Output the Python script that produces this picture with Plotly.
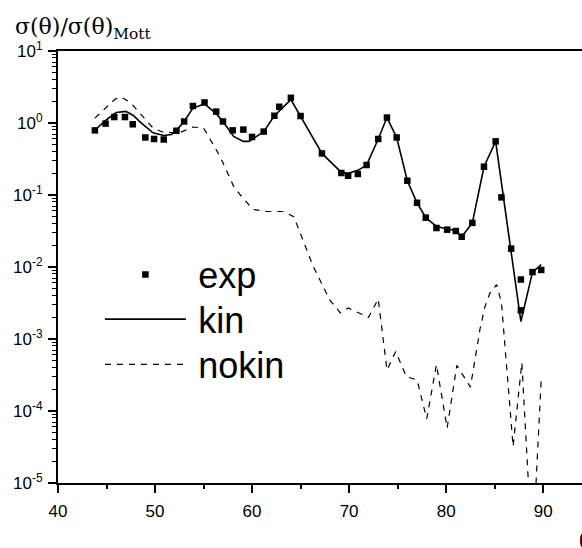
import plotly.graph_objects as go

# ---------------- data ----------------
exp_x = [43.8, 44.9, 45.8, 46.9, 47.7, 49.0, 49.9, 50.9, 52.2, 53.0, 53.9, 55.1,
         56.3, 57.0, 58.0, 59.1, 60.0, 61.2, 62.3, 62.8, 64.0, 65.0, 67.2, 69.2,
         69.9, 70.9, 71.8, 73.0, 73.9, 74.9, 76.0, 77.0, 77.9, 79.0, 80.1, 81.0,
         81.6, 82.7, 83.9, 85.1, 85.7, 86.7, 87.7, 87.7, 88.9, 89.8]
exp_y = [0.79, 0.98, 1.21, 1.21, 0.96, 0.63, 0.60, 0.59, 0.78, 1.05, 1.72, 1.93,
         1.44, 1.05, 0.79, 0.81, 0.64, 0.76, 1.26, 1.68, 2.24, 1.25, 0.378, 0.202,
         0.185, 0.196, 0.261, 0.60, 1.19, 0.63, 0.158, 0.078, 0.0484, 0.0348, 0.033, 0.0316,
         0.0263, 0.041, 0.247, 0.556, 0.0927, 0.018, 0.0067, 0.0025, 0.0085, 0.0091]

kin_x = [43.8, 45.0, 46.0, 47.0, 47.8, 48.5, 49.8, 50.9, 51.7, 52.2, 53.0, 53.9,
         55.1, 56.3, 57.0, 58.1, 59.1, 59.7, 61.2, 62.3, 64.0, 65.0, 67.2, 69.2,
         69.9, 70.9, 71.8, 73.0, 73.9, 74.9, 76.0, 77.0, 77.9, 79.0, 80.1, 81.0,
         81.6, 82.7, 83.9, 85.1, 87.7, 88.9, 89.8]
kin_y = [0.80, 1.11, 1.40, 1.45, 1.26, 1.02, 0.73, 0.67, 0.69, 0.79, 1.05, 1.61,
         1.84, 1.35, 1.05, 0.65, 0.556, 0.556, 0.76, 1.26, 2.11, 1.25, 0.378, 0.206,
         0.20, 0.22, 0.26, 0.60, 1.19, 0.63, 0.158, 0.078, 0.0484, 0.0366, 0.034, 0.032,
         0.0263, 0.041, 0.247, 0.556, 0.00175, 0.0085, 0.0108]

nokin_x = [43.8, 45.9, 46.5, 47.5, 49.8, 51.0, 52.6, 53.9, 55.0, 56.7, 58.1, 58.8,
           60.1, 61.5, 63.2, 64.3, 66.3, 68.0, 69.1, 69.9, 72.0, 73.0, 73.9, 74.8,
           75.9, 77.0, 78.0, 79.0, 80.1, 81.1, 82.5, 83.5, 84.0, 84.5, 85.2, 85.7,
           86.9, 87.8, 88.6, 89.15, 89.8]
nokin_y = [1.17, 2.15, 2.30, 1.9, 0.85, 0.73, 0.74, 0.88, 0.85, 0.344, 0.132, 0.10,
           0.063, 0.059, 0.059, 0.050, 0.0102, 0.0035, 0.0023, 0.0027, 0.0020, 0.0036, 0.00037, 0.00067,
           0.0003, 0.00027, 7.8e-5, 0.00044, 5.8e-5, 0.00043, 0.000215, 0.0014, 0.0028, 0.0043, 0.0057, 0.0032,
           3.2e-5, 0.00047, 5e-6, 5e-6, 0.00028]

x_ticks = [40, 50, 60, 70, 80, 90]
x_minor = [45, 55, 65, 75, 85]
y_exps = [-5, -4, -3, -2, -1, 0, 1]
y_ticks = [10.0 ** e for e in y_exps]
y_ticktext = ["10<sup>%d</sup>" % e for e in y_exps]
y_minor = [m * 10.0 ** e for e in y_exps[:-1] for m in range(2, 10)]

SANS = "Liberation Sans, Arial, sans-serif"
SERIF = "DejaVu Serif, Liberation Serif, serif"

fig = go.Figure()
fig.add_trace(go.Scatter(x=kin_x, y=kin_y, mode="lines", name="\u2009kin", showlegend=True,
                         line=dict(color="black", width=1.6), legend="legend2"))
fig.add_trace(go.Scatter(x=nokin_x, y=nokin_y, mode="lines", name="\u2009nokin", showlegend=True,
                         line=dict(color="black", width=1.2, dash="6px,6px"), legend="legend3"))
fig.add_trace(go.Scatter(x=exp_x, y=exp_y, mode="markers", name="\u2009exp", showlegend=True,
                         marker=dict(symbol="square", size=6.5, color="black"), legend="legend"))

leg_common = dict(xref="paper", yref="paper", xanchor="left", yanchor="middle",
                  bgcolor="rgba(0,0,0,0)", borderwidth=0, itemwidth=81,
                  font=dict(family=SANS, size=36, color="black"))
fig.update_layout(
    width=582, height=548,
    showlegend=True,
    margin=dict(l=58, r=0, t=51, b=65, autoexpand=False),
    paper_bgcolor="white", plot_bgcolor="white",
    font=dict(family=SANS, color="black"),
    legend=dict(x=0.08, y=0.4826, **leg_common),
    legend2=dict(x=0.08, y=0.379, **leg_common),
    legend3=dict(x=0.08, y=0.2743, **leg_common),
    xaxis=dict(range=[40, 94.0], tickmode="array", tickvals=x_ticks,
               ticks="outside", ticklen=8, tickwidth=1.5, tickcolor="black",
               minor=dict(tickmode="array", tickvals=x_minor, ticks="outside", ticklen=4,
                          tickwidth=1.5, tickcolor="black", showgrid=False),
               showline=True, linewidth=2, linecolor="black", mirror=True,
               showgrid=False, zeroline=False, ticklabelstandoff=4,
               tickfont=dict(family=SANS, size=17, color="black")),
    yaxis=dict(type="log", range=[-5, 1], tickmode="array", tickvals=y_ticks,
               ticktext=y_ticktext,
               ticks="outside", ticklen=8, tickwidth=1.5, tickcolor="black",
               minor=dict(tickmode="array", tickvals=y_minor, ticks="outside", ticklen=4,
                          tickwidth=1.2, tickcolor="black", showgrid=False),
               showline=True, linewidth=2, linecolor="black", mirror=False,
               showgrid=False, zeroline=False, ticklabelstandoff=2,
               tickfont=dict(family=SANS, size=17, color="black")),
    annotations=[
        dict(text="σ(θ)/σ(θ)<sub>Mott</sub>", xref="paper", yref="paper",
             x=-0.0865, y=1.09, xanchor="left", yanchor="top", showarrow=False,
             font=dict(family=SERIF, size=22, color="black")),
        dict(text="θ", xref="paper", yref="paper",
             x=0.9905, y=-0.1, xanchor="left", yanchor="top", showarrow=False,
             font=dict(family="Liberation Serif, serif", size=22, color="black")),
    ],
)

fig.write_html("out.html", config={"displayModeBar": False},
               post_script="document.body.style.margin='0';document.body.style.padding='0';"
                           "document.body.style.overflow='hidden';")
